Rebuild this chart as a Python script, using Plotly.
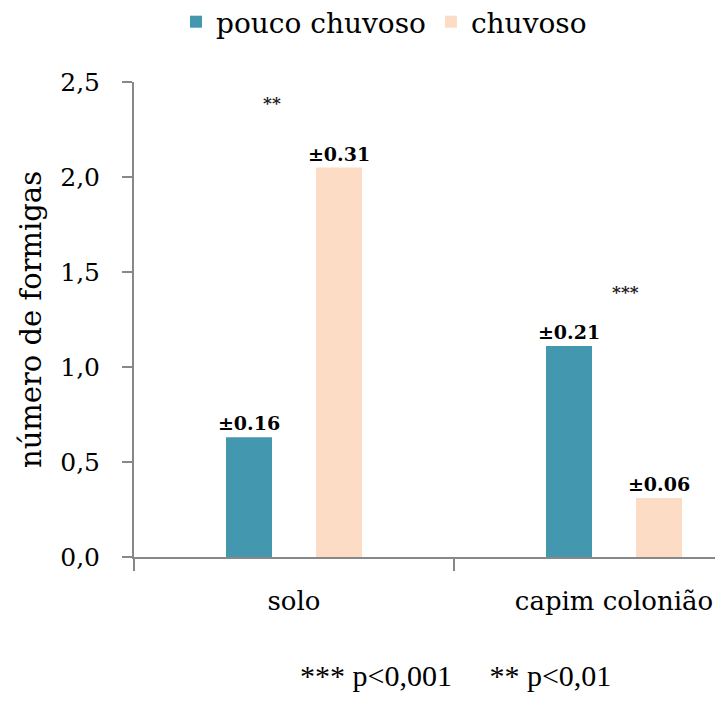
import plotly.graph_objects as go

categories = ["solo", "capim colonião"]
series_names = ["pouco chuvoso", "chuvoso"]
pouco_chuvoso = [0.63, 1.11]
chuvoso = [2.05, 0.31]
err_pouco = ["±0.16", "±0.21"]
err_chuvoso = ["±0.31", "±0.06"]
colors = ["#4397AE", "#FCDCC4"]
y_ticks = [0.0, 0.5, 1.0, 1.5, 2.0, 2.5]

serif = "DejaVu Serif"

# page has an 8px body margin; figure is 715x696 placed at (8, 8)
W, H = 715, 696
L, T, PW, PH = 126, 74, 589, 475

fig = go.Figure()
for name, vals, errs, col in [
    (series_names[0], pouco_chuvoso, err_pouco, colors[0]),
    (series_names[1], chuvoso, err_chuvoso, colors[1]),
]:
    fig.add_trace(go.Bar(
        x=categories, y=vals, name=name, marker_color=col,
        marker_line_width=0,
        text=errs, textposition="outside", cliponaxis=False, constraintext="none",
        textfont=dict(family=serif, size=19, color="black", weight="bold"),
    ))

fig.add_annotation(x=-0.07, y=2.39, text="**", showarrow=False,
                   font=dict(family=serif, size=17, color="#222", weight="bold"))
fig.add_annotation(x=1.035, y=1.395, text="***", showarrow=False,
                   font=dict(family=serif, size=17, color="#222", weight="bold"))
fig.add_annotation(xref="paper", yref="paper", x=(447 - L) / PW, y=-(694 - 8 - (T + PH)) / PH,
                   text="*** p<0,001&nbsp;&nbsp;&nbsp;&nbsp;&nbsp;** p<0,01", showarrow=False,
                   font=dict(family="Liberation Serif", size=30, color="black"))

fig.update_layout(
    width=W, height=H,
    margin=dict(l=L, r=W - L - PW, t=T, b=H - T - PH, autoexpand=False),
    paper_bgcolor="white", plot_bgcolor="white",
    separators=",.",
    barmode="group", bargap=0.4375, bargroupgap=0.489,
    showlegend=True,
    legend=dict(orientation="h", x=376 / W, xref="container", xanchor="center",
                y=1 - 14 / H, yref="container", yanchor="middle",
                font=dict(family=serif, size=28, color="black"),
                itemwidth=30, tracegroupgap=0),
    xaxis=dict(type="category", range=[-0.5, -0.5 + PW / 320], automargin=False,
               tickson="boundaries", ticks="outside", ticklen=12, tickwidth=2,
               tickcolor="#888", showline=True, linecolor="#888", linewidth=2,
               ticklabelstandoff=20,
               tickfont=dict(family=serif, size=26, color="black"),
               showgrid=False),
    yaxis=dict(range=[0, 2.5], tickvals=y_ticks, tickformat=".1f", automargin=False,
               ticks="outside", ticklen=10, tickwidth=2, tickcolor="#888",
               showline=True, linecolor="#888", linewidth=2, showgrid=False,
               zeroline=False, ticklabelstandoff=17,
               tickfont=dict(family=serif, size=25, color="black"),
               title=dict(text="número de formigas", standoff=10,
                          font=dict(family=serif, size=29, color="black"))),
)

fig.write_html("out.html")
